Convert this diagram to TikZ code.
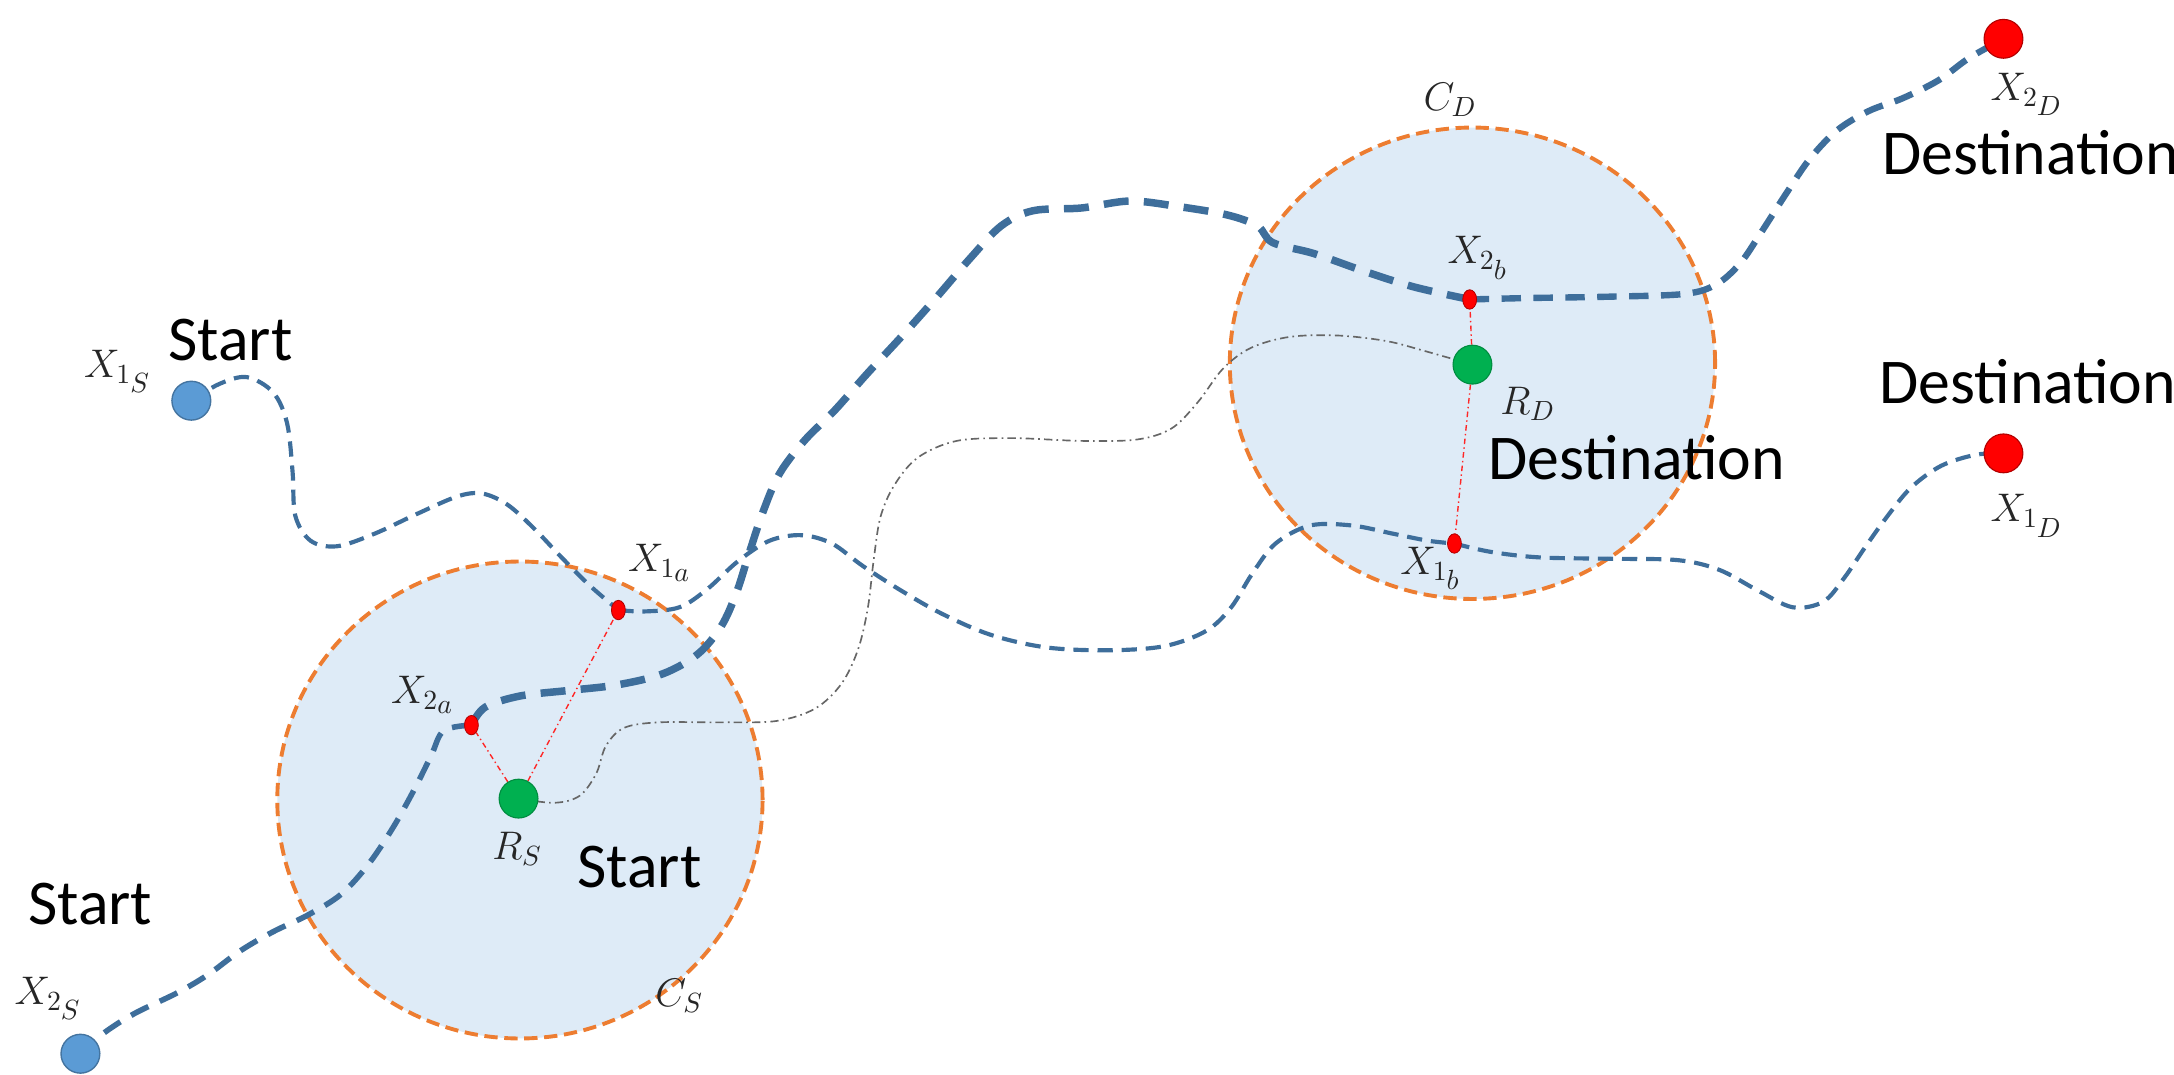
\documentclass[tikz,border=0pt]{standalone}
\usepackage{fontspec}
\setmainfont{Carlito}
\usetikzlibrary{shapes.geometric}
\definecolor{pathblue}{RGB}{62,110,155}
\definecolor{zonefill}{RGB}{222,235,247}
\definecolor{zoneline}{RGB}{237,125,49}
\definecolor{startblue}{RGB}{91,155,213}
\definecolor{destred}{RGB}{255,0,0}
\definecolor{relaygreen}{RGB}{0,176,80}
\pgfdeclarelayer{back}
\pgfdeclarelayer{mid}
\pgfsetlayers{back,mid,main}
\newcommand\xlab[2]{$X_{#1_{\scriptstyle #2}}$}
\tikzset{
  zone/.style={ellipse, inner sep=0pt, fill=zonefill, draw=zoneline, line width=1.4pt, dash pattern=on 4.8pt off 2.4pt},
  startdot/.style={circle, inner sep=0pt, minimum size=14pt, fill=startblue, draw=startblue!75!black, line width=0.5pt},
  destdot/.style={circle, inner sep=0pt, minimum size=14pt, fill=destred, draw=destred!70!black, line width=0.4pt},
  relaydot/.style={circle, inner sep=0pt, minimum size=14pt, fill=relaygreen, draw=relaygreen!80!black, line width=0.4pt},
  waydot/.style={ellipse, inner sep=0pt, minimum width=5pt, minimum height=7pt, fill=destred, draw=destred!70!black, line width=0.3pt},
  thinpath/.style={draw=pathblue, line width=1.5pt, dash pattern=on 5.5pt off 3.2pt},
  midpath/.style={draw=pathblue, line width=2pt, dash pattern=on 7pt off 4.5pt},
  thickpath/.style={draw=pathblue, line width=2.7pt, dash pattern=on 9pt off 5.5pt},
  relaypath/.style={draw=black!60, line width=0.6pt, dash pattern=on 3pt off 1.5pt on 0.6pt off 1.5pt},
  linkline/.style={draw=destred!85, line width=0.5pt, dash pattern=on 2pt off 1.2pt on 0.5pt off 1.2pt},
  mlabel/.style={inner sep=0pt, text=black!85, font=\fontsize{14.5}{17}\selectfont},
  tlabel/.style={inner sep=0pt, anchor=west, font=\fontsize{23}{27}\selectfont},
}
\begin{document}
\begin{tikzpicture}[x=0.5pt,y=-0.5pt]
\useasboundingbox (0,0) rectangle (1568,775);
% zones
\begin{pgfonlayer}{back}
\node[zone, minimum width=175pt, minimum height=172pt] (CSz) at (375,577) {};
\node[zone, minimum width=175pt, minimum height=170pt] (CDz) at (1062,262) {};
\end{pgfonlayer}
% dots
\node[startdot] (X1S) at (138,289) {};
\node[startdot] (X2S) at (58,760) {};
\node[destdot] (X2D) at (1445,28) {};
\node[destdot] (X1D) at (1445,327) {};
\node[relaydot] (RS) at (374,576) {};
\node[relaydot] (RD) at (1062,263) {};
\node[waydot] (X1a) at (446,440) {};
\node[waydot] (X2a) at (340,523) {};
\node[waydot] (X2b) at (1060,216) {};
\node[waydot] (X1b) at (1049,392) {};
% paths
\begin{pgfonlayer}{mid}
\draw[thinpath] plot[smooth,tension=0.55] coordinates {(X1S.center) (158,277) (178,272) (197,283) (207,305) (211,340) (213,372) (224,390) (243,394) (270,385) (300,371) (330,358) (348,356) (366,364) (385,381) (405,402) (425,422) (X1a.center)};
\draw[thinpath] plot[smooth,tension=0.55] coordinates {(X1a.center) (465,441) (490,438) (510,425) (532,405) (555,390) (578,386) (600,392) (622,408) (650,426) (680,443) (715,458) (755,467) (800,469) (840,466) (870,455) (888,438) (903,414) (920,392) (945,379) (975,379) (1005,385) (1030,390) (X1b.center)};
\draw[thinpath] plot[smooth,tension=0.55] coordinates {(X1b.center) (1075,398) (1110,402) (1160,403) (1210,404) (1240,411) (1268,426) (1293,438) (1315,434) (1330,417) (1345,395) (1360,374) (1378,352) (1400,336) (1425,328) (X1D.center)};
\draw[midpath] plot[smooth,tension=0.55] coordinates {(X2S.center) (75,745) (97,731) (128,716) (150,703) (173,686) (197,672) (222,660) (246,645) (266,623) (284,596) (299,569) (311,545) (320,527) (X2a.center)};
\draw[thickpath] plot[smooth,tension=0.55] coordinates {(X2a.center) (350,510) (375,502) (410,498) (445,494) (478,486) (503,472) (520,452) (531,428) (540,400) (550,370) (562,342) (580,318) (602,296) (625,270) (650,243) (675,215) (700,186) (722,163) (745,152) (780,150) (815,145) (850,149) (885,155) (907,163) (918,175) (948,183) (985,196) (1020,207) (X2b.center)};
\draw[midpath, line width=2.3pt] plot[smooth,tension=0.55] coordinates {(X2b.center) (1100,215) (1160,214) (1215,212) (1238,205) (1255,190) (1270,168) (1288,140) (1305,115) (1325,94) (1348,80) (1372,71) (1398,58) (1420,42) (X2D.center)};
\draw[relaypath] plot[smooth,tension=0.55] coordinates {(RS.center) (400,579) (418,574) (430,558) (437,538) (450,525) (475,521) (520,521) (560,520) (588,511) (607,493) (619,468) (626,438) (630,405) (635,373) (645,350) (662,330) (690,318) (730,316) (780,318) (820,317) (845,309) (864,290) (882,266) (902,251) (930,243) (965,242) (1000,246) (1027,253) (RD.center)};
\draw[linkline] (RS) -- (X2a);
\draw[linkline] (RS) -- (X1a);
\draw[linkline] (RD) -- (X2b);
\draw[linkline] (RD) -- (X1b);
\end{pgfonlayer}
% labels
\node[mlabel] (lX1S) at (85,268) {\xlab{1}{S}};
\node[mlabel] (lX2S) at (35,720) {\xlab{2}{S}};
\node[mlabel] (lX1a) at (476,406) {\xlab{1}{a}};
\node[mlabel] (lX2a) at (305,501) {\xlab{2}{a}};
\node[mlabel] (lRS) at (373,612) {$R_S$};
\node[mlabel] (lCS) at (490,718) {$C_S$};
\node[mlabel] (lCD) at (1046,72) {$C_D$};
\node[mlabel] (lX2b) at (1066,186) {\xlab{2}{b}};
\node[mlabel] (lRD) at (1102,291) {$R_D$};
\node[mlabel] (lX1b) at (1032,410) {\xlab{1}{b}};
\node[mlabel] (lX2D) at (1462,68) {\xlab{2}{D}};
\node[mlabel] (lX1D) at (1462,372) {\xlab{1}{D}};
\node[tlabel] (tS1) at (121,245) {Start};
\node[tlabel] (tS2) at (20,652) {Start};
\node[tlabel] (tS3) at (416,625) {Start};
\node[tlabel] (tD1) at (1073,330) {Destination};
\node[tlabel] (tD2) at (1357,110) {Destination};
\node[tlabel] (tD3) at (1355,275) {Destination};
\end{tikzpicture}
\end{document}
